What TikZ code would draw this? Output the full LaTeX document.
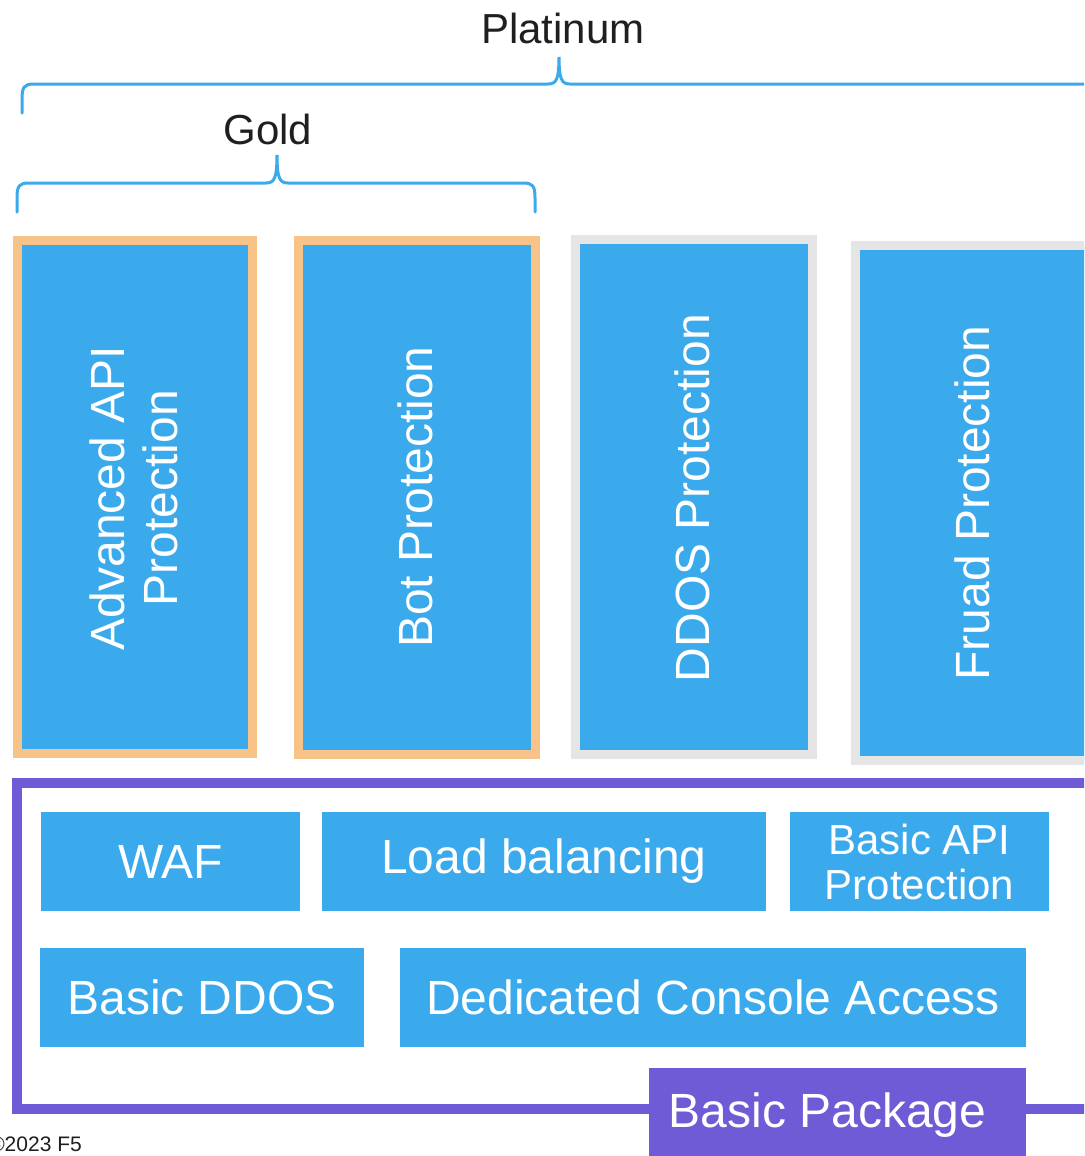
\documentclass[tikz,border=0pt]{standalone}
\usepackage{fontspec}
\setmainfont{Liberation Sans}
\definecolor{bblue}{HTML}{3BAAEC}
\definecolor{borange}{HTML}{F7C388}
\definecolor{bgray}{HTML}{E5E5E5}
\definecolor{bpurple}{HTML}{705BD6}
\definecolor{btext}{HTML}{1F1F1F}
\tikzset{
  brace/.style={draw=bblue, line width=3pt, line cap=round},
  tallbox/.style={fill=bblue, line width=9pt, minimum width=236pt, minimum height=514pt, inner sep=0pt},
  goldbox/.style={tallbox, draw=borange},
  platbox/.style={tallbox, draw=bgray},
  vtext/.style={rotate=90, text=white, align=center, inner sep=0pt, font=\fontsize{48}{53}\selectfont},
  featbox/.style={fill=bblue, minimum height=99pt, inner sep=0pt, text=white, align=center, font=\fontsize{48}{53}\selectfont},
  tierlabel/.style={text=btext, inner sep=0pt, font=\fontsize{42}{48}\selectfont},
}
\begin{document}
\begin{tikzpicture}[x=1pt, y=-1pt]
\useasboundingbox (0,0) rectangle (1084,1156);
\clip (0,0) rectangle (1084,1156);
\fill[white] (0,0) rectangle (1084,1156);
% tier labels
\node[tierlabel] (plat) at (563,28) {Platinum};
\node[tierlabel] (gold) at (268,129) {Gold};
% braces
\draw[brace] (22,113) -- (22,100) .. controls (22,87) and (24,84) .. (34,84) -- (548,84) .. controls (556,84) and (559,80) .. (559,57) .. controls (559,80) and (562,84) .. (570,84) -- (1100,84);
\draw[brace] (17,212) -- (17,198) .. controls (17,186) and (19,183) .. (29,183) -- (266,183) .. controls (274,183) and (277,179) .. (277,155) .. controls (277,179) and (280,183) .. (288,183) -- (523,183) .. controls (533,183) and (535,186) .. (535,198) -- (535,212);
% tall boxes
\node[goldbox, minimum width=235pt, minimum height=513pt] (adv) at (135,497) {};
\node[goldbox, minimum width=237pt] (bot) at (417,497.5) {};
\node[platbox, minimum width=237pt, minimum height=515pt] (ddos) at (694,497) {};
\node[platbox, minimum width=237pt, minimum height=515pt] (fraud) at (974,503) {};
\node[vtext] (advt) at (133.5,498) {Advanced API\\Protection};
\node[vtext] (bott) at (415,497) {Bot Protection};
\node[vtext] (ddost) at (692,498) {DDOS Protection};
\node[vtext] (fraudt) at (972,503) {Fruad Protection};
% basic package frame
\draw[bpurple, line width=10pt] (17,783) rectangle (1200,1109);
\node[featbox, minimum width=259pt] (waf) at (170.5,861.5) {WAF};
\node[featbox, minimum width=444pt] (lb) at (544,861.5) {Load balancing};
\node[featbox, minimum width=259pt, font=\fontsize{42}{45}\selectfont] (bapi) at (919.5,861.5) {Basic API\\Protection};
\node[featbox, minimum width=324pt] (bddos) at (202,997.5) {Basic DDOS};
\node[featbox, minimum width=626pt] (dca) at (713,997.5) {Dedicated Console Access};
\node[fill=bpurple, minimum width=377pt, minimum height=100pt, inner sep=0pt] (bpk) at (837.5,1118) {};
\node[text=white, inner sep=0pt, font=\fontsize{48}{53}\selectfont] (bpkt) at (827.5,1115) {Basic Package};
% copyright
\node[anchor=east, text=btext, inner sep=0pt, font=\fontsize{21}{24}\selectfont] (copy) at (82,1144) {©2023 F5};
\end{tikzpicture}
\end{document}
